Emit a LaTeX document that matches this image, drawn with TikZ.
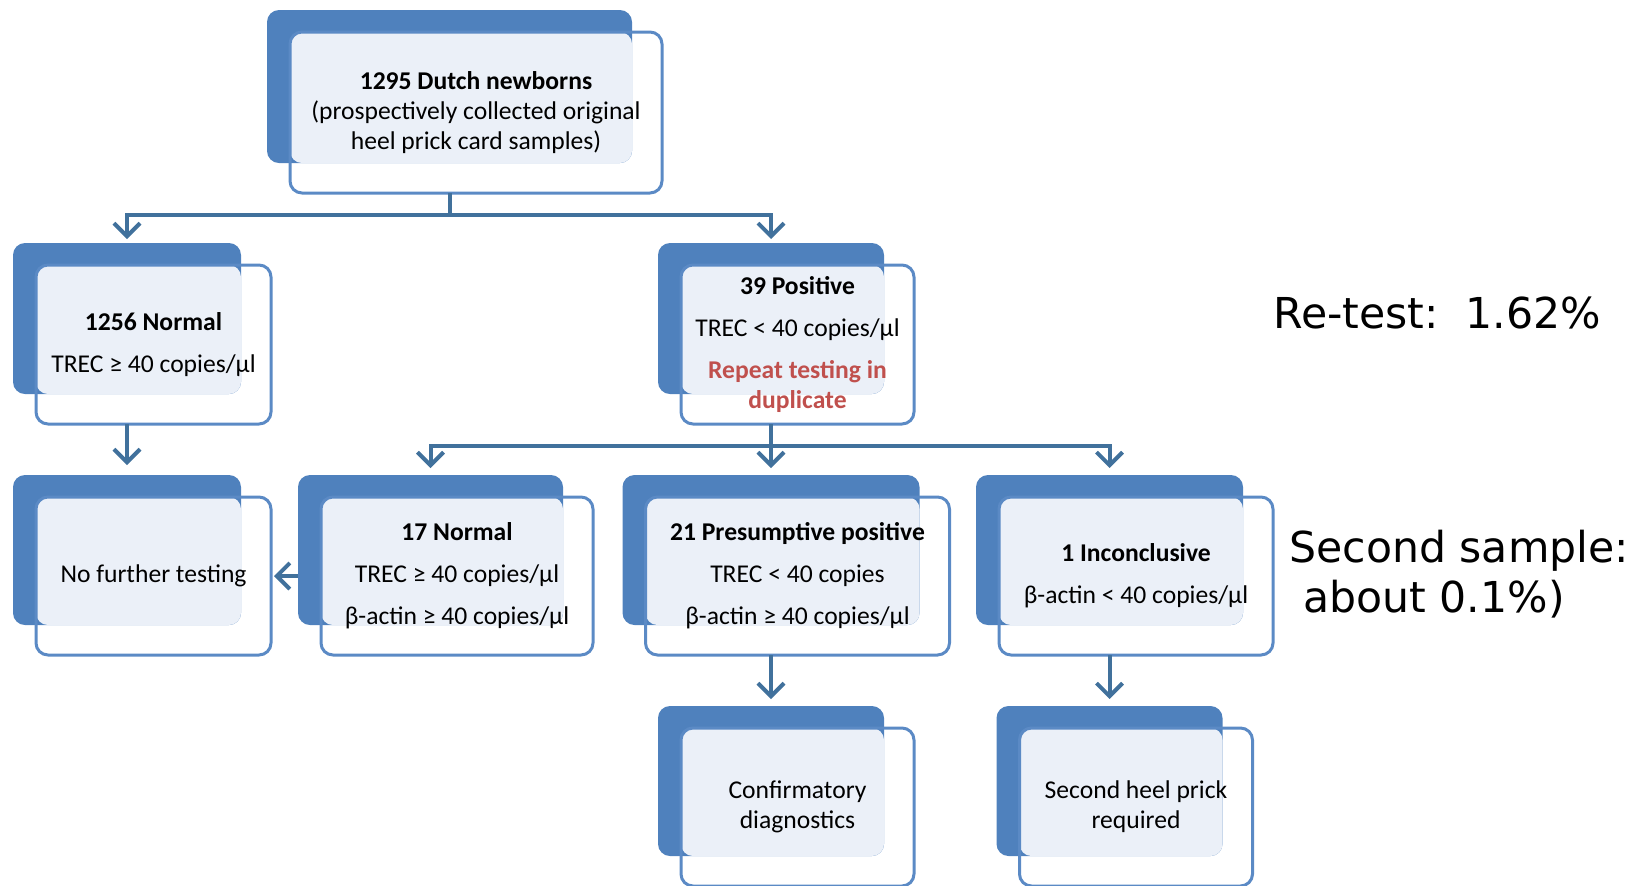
\documentclass[tikz,border=0pt]{standalone}
\usepackage{fontspec}
\setmainfont{Carlito}
\newfontfamily\notefont{DejaVu Sans}
\usetikzlibrary{arrows.meta,backgrounds}
\definecolor{cardback}{HTML}{4F81BD}
\definecolor{cardedge}{HTML}{5B8AC5}
\definecolor{cardlight}{HTML}{EBF0F8}
\definecolor{linkblue}{HTML}{41719C}
\definecolor{warnred}{HTML}{C0504D}
\tikzset{
  card/.style={draw=cardedge, line width=1.5pt, rounded corners=6pt, align=center,
    inner sep=0pt, outer sep=0pt, font=\fontsize{12.8}{15}\selectfont},
  cardsize/.style 2 args={minimum width=#1*0.5pt, minimum height=#2*0.5pt},
  link/.style={draw=linkblue, line width=2pt},
  flow/.style={link, -{Straight Barb[length=6.5pt,width=13pt]}},
  note/.style={font=\notefont\fontsize{21.3}{25}\selectfont, inner sep=0pt, anchor=base west}
}
\begin{document}
\begin{tikzpicture}[x=0.5pt,y=-0.5pt]
\useasboundingbox (0,0) rectangle (1631,885);
% front cards
\node[card, cardsize={372}{161}] (top) at (476,112.5)
  {\textbf{1295 Dutch newborns}\\(prospectively collected original\\heel prick card samples)};
\node[card, cardsize={235}{159}] (normA) at (153.5,344.5)
  {\textbf{1256 Normal}\\[6pt]TREC ≥ 40 copies/µl};
\node[card, cardsize={233}{159}] (pos) at (797.5,344.5)
  {\textbf{39 Positive}\\[6pt]TREC < 40 copies/µl\\[6pt]\textcolor{warnred}{\textbf{Repeat testing in}}\\\textcolor{warnred}{\textbf{duplicate}}};
\node[card, cardsize={235}{158}] (stop) at (153.5,576) {No further testing};
\node[card, cardsize={272}{158}] (normB) at (457,576)
  {\textbf{17 Normal}\\[6pt]TREC ≥ 40 copies/µl\\[6pt]β-actin ≥ 40 copies/µl};
\node[card, cardsize={304}{158}] (presum) at (797.5,576)
  {\textbf{21 Presumptive positive}\\[6pt]TREC < 40 copies\\[6pt]β-actin ≥ 40 copies/µl};
\node[card, cardsize={274}{158}] (incon) at (1136,576)
  {\textbf{1 Inconclusive}\\[6pt]β-actin < 40 copies/µl};
\node[card, cardsize={233}{158}] (confirm) at (797.5,807) {Confirmatory\\diagnostics};
\node[card, cardsize={233}{158}] (second) at (1136,807) {Second heel prick\\required};
% back cards
\begin{scope}[on background layer]
\foreach \c in {top,normA,pos,stop,normB,presum,incon,confirm,second}{
  \fill[cardback, rounded corners=6pt] ([shift={(-23,-22)}]\c.north west) rectangle ([shift={(-30,-30)}]\c.south east);
  \fill[cardlight, rounded corners=6pt] (\c.north west) rectangle ([shift={(-30,-30)}]\c.south east);
}
\end{scope}
% connectors
\coordinate (split1) at ([shift={(-26.5,22)}]top.south);
\draw[link] ([shift={(-26.5,0)}]top.south) -- (split1);
\draw[flow] (split1) -| ([shift={(-26.5,-26)}]normA.north);
\draw[flow] (split1) -| ([shift={(-26.5,-26)}]pos.north);
\draw[flow] ([shift={(-26.5,0)}]normA.south) -- ([shift={(-26.5,-32)}]stop.north);
\coordinate (split2) at ([shift={(-26.5,22)}]pos.south);
\draw[link] ([shift={(-26.5,0)}]pos.south) -- (split2);
\draw[flow] (split2) -| ([shift={(-26.5,-29)}]normB.north);
\draw[flow] (split2) -- ([shift={(-26.5,-29)}]presum.north);
\draw[flow] (split2) -| ([shift={(-26.5,-29)}]incon.north);
\draw[flow] ([shift={(-23,0)}]normB.west) -- ([shift={(3,0)}]stop.east);
\draw[flow] ([shift={(-26.5,0)}]presum.south) -- ([shift={(-26.5,-29)}]confirm.north);
\draw[flow] ([shift={(-26.5,0)}]incon.south) -- ([shift={(-26.5,-29)}]second.north);
% side notes
\node[note] (retest) at (1273,328) {Re-test:\ \ 1.62\%};
\node[note] (sample) at (1289,562) {Second sample:};
\node[note] (about) at (1303,612) {about 0.1\%)};
\end{tikzpicture}
\end{document}
